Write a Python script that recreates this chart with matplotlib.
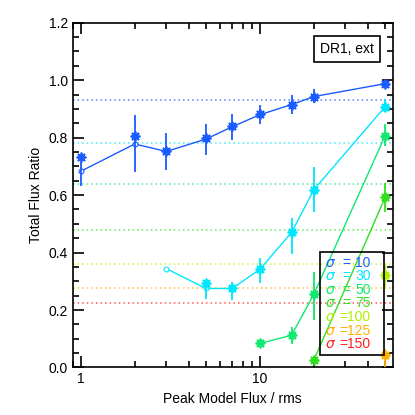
import matplotlib
matplotlib.use("Agg")
import matplotlib.pyplot as plt
import numpy as np
from matplotlib.patches import Rectangle

# ── data ────────────────────────────────────────────────────────────────────
SIGMAS = [10, 30, 50, 75, 100, 125, 150]
COLORS = ["#1a5cff", "#00e6ff", "#10e870", "#30e020", "#b0f000", "#ffb000", "#ff2020"]
THEORY = [0.930, 0.780, 0.640, 0.478, 0.360, 0.278, 0.226]   # dotted reference levels

# sigma = 10
x10 = [1, 2, 3, 5, 7, 10, 15, 20, 50]
line10 = [0.683, 0.778, 0.752, 0.795, 0.838, 0.880, 0.915, 0.943, 0.988]
star10 = [0.732, 0.807, 0.752, 0.798, 0.840, 0.881, 0.915, 0.943, 0.988]
lo10 = [0.630, 0.680, 0.686, 0.740, 0.793, 0.848, 0.883, 0.921, 0.975]
hi10 = [0.715, 0.880, 0.817, 0.848, 0.883, 0.914, 0.947, 0.968, 1.000]

# sigma = 30
x30 = [3, 5, 7, 10, 15, 20, 50]
line30 = [0.344, 0.275, 0.275, 0.342, 0.470, 0.619, 0.908]
star30 = [np.nan, 0.293, 0.275, 0.342, 0.470, 0.619, 0.908]
lo30 = [np.nan, 0.240, 0.234, 0.293, 0.394, 0.540, 0.889]
hi30 = [np.nan, 0.300, 0.297, 0.380, 0.520, 0.699, 0.933]

# sigma = 50
x50 = [10, 15, 20, 50]
line50 = [0.084, 0.112, 0.255, 0.807]
star50 = [0.084, 0.112, 0.255, 0.807]
lo50 = [0.075, 0.080, 0.165, 0.770]
hi50 = [0.095, 0.142, 0.333, 0.848]

# sigma = 75
x75 = [20, 50]
line75 = [0.026, 0.592]
star75 = [0.026, 0.592]
lo75 = [0.015, 0.542]
hi75 = [0.035, 0.642]

# sigma = 100 / 125 (only the last bin is on the plot)
x100 = [50]
star100 = [0.322]
lo100 = [0.280]
hi100 = [0.356]

x125 = [50]
star125 = [0.042]
lo125 = [0.000]
hi125 = [0.065]

SERIES = [
    (x10, line10, star10, lo10, hi10, COLORS[0]),
    (x30, line30, star30, lo30, hi30, COLORS[1]),
    (x50, line50, star50, lo50, hi50, COLORS[2]),
    (x75, line75, star75, lo75, hi75, COLORS[3]),
    (x100, None, star100, lo100, hi100, COLORS[4]),
    (x125, None, star125, lo125, hi125, COLORS[5]),
]

plt.rcParams["font.family"] = ["Liberation Sans", "DejaVu Sans"]
plt.rcParams["mathtext.fontset"] = "dejavusans"

fig = plt.figure(figsize=(4.15, 4.15), dpi=100)
ax = fig.add_axes([0.175, 0.1145, 0.771, 0.8307])

# dotted theoretical levels
for lev, col in zip(THEORY, COLORS):
    ax.axhline(lev, color=col, ls=(0, (1, 2)), lw=1.1, alpha=0.75, zorder=1)

ASTERISK = (8, 2, 0)
for xs, line, star, lo, hi, col in SERIES:
    xs = np.asarray(xs, float)
    star = np.asarray(star, float)
    lo = np.asarray(lo, float)
    hi = np.asarray(hi, float)
    if line is not None:
        ax.plot(xs, line, color=col, lw=1.0, marker="o", ms=3.5, mfc="white",
                mec=col, mew=0.8, zorder=3)
    ax.vlines(xs, lo, hi, color=col, lw=1.3, zorder=3)
    ax.plot(xs, star, ls="none", marker=ASTERISK, ms=7, mec=col, mew=1.3, zorder=4)

ax.set_xscale("log")
ax.set_xlim(0.9, 55)
ax.set_ylim(0, 1.2)
ax.set_xticks([1, 10])
ax.set_xticklabels(["1", "10"])
ax.set_yticks(np.arange(0, 1.21, 0.2))
ax.set_yticklabels([f"{v:.1f}" for v in np.arange(0, 1.21, 0.2)])
ax.set_yticks(np.arange(0, 1.21, 0.05), minor=True)
ax.tick_params(which="both", direction="in", top=True, right=True, labelsize=10, width=1.2)
ax.tick_params(which="major", length=8)
ax.tick_params(which="minor", length=4)
for sp in ax.spines.values():
    sp.set_linewidth(1.2)

ax.set_xlabel("Peak Model Flux / rms", fontsize=10)
ax.set_ylabel("Total Flux Ratio", fontsize=10, labelpad=4)

# label box
ax.text(0.858, 0.924, "DR1, ext", transform=ax.transAxes, ha="center", va="center",
        fontsize=10, bbox=dict(boxstyle="square,pad=0.45", fc="white", ec="black", lw=1.2))

# legend drawn as coloured text in a frame
ax.add_patch(Rectangle((0.773, 0.036), 0.2, 0.30, transform=ax.transAxes,
                       fill=False, ec="black", lw=1.2, zorder=5))
for i, (s, col) in enumerate(zip(SIGMAS, COLORS)):
    yrow = 0.304 - i * 0.0394
    ax.text(0.79, yrow, r"$\sigma$", transform=ax.transAxes, color=col,
            fontsize=10, va="center", ha="left", zorder=6)
    if s >= 100:
        ax.text(0.932, yrow, f"={s}", transform=ax.transAxes, color=col,
                fontsize=10, va="center", ha="right", zorder=6)
    else:
        ax.text(0.842, yrow, "=", transform=ax.transAxes, color=col,
                fontsize=10, va="center", ha="left", zorder=6)
        ax.text(0.932, yrow, str(s), transform=ax.transAxes, color=col,
                fontsize=10, va="center", ha="right", zorder=6)

fig.savefig("out.png", dpi=100)
